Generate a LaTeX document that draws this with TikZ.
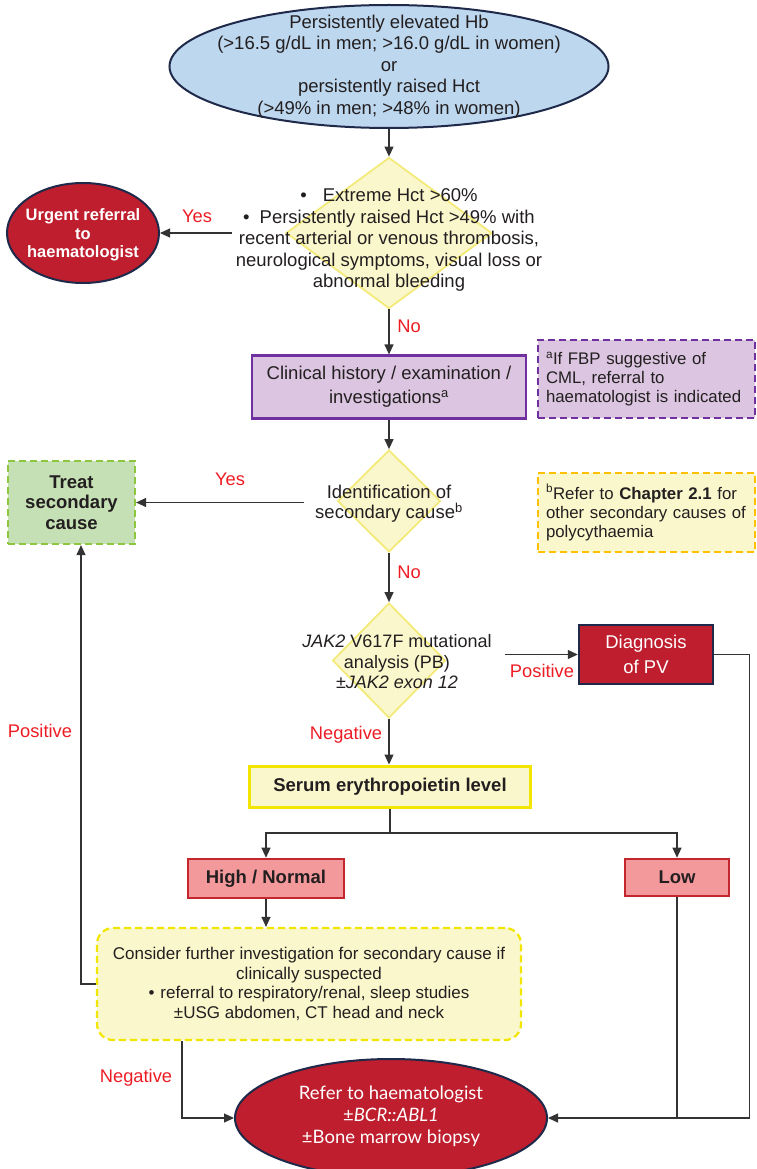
\documentclass[tikz,border=0pt]{standalone}
\usepackage{fontspec}
\setmainfont{Liberation Sans}
\newfontfamily\latofont{Lato}
\usetikzlibrary{shapes.geometric, arrows.meta}

\definecolor{inkgray}{HTML}{231F20}
\definecolor{linegray}{HTML}{333333}
\definecolor{labelred}{HTML}{ED1C24}
\definecolor{navyline}{HTML}{1F2A4A}
\definecolor{skyfill}{HTML}{BDD7EE}
\definecolor{bloodred}{HTML}{BE1E2D}
\definecolor{lilacfill}{HTML}{DBC5E0}
\definecolor{purpleline}{HTML}{7030A0}
\definecolor{leaffill}{HTML}{C5E0B4}
\definecolor{leafline}{HTML}{8DC63F}
\definecolor{creamfill}{HTML}{FAF7CC}
\definecolor{lemonline}{HTML}{F2E600}
\definecolor{amberline}{HTML}{FFC000}
\definecolor{paleline}{HTML}{F3EA7A}
\definecolor{pinkfill}{HTML}{F4999B}
\definecolor{rubyline}{HTML}{C4262E}

\begin{document}
\begin{tikzpicture}[x=1pt, y=-1pt,
    every node/.style={align=center, text=inkgray, inner sep=0pt,
        font=\fontsize{18.5}{21.5}\selectfont},
    arr/.style={draw=linegray, line width=1.2pt, -{Triangle[length=10pt,width=9pt]}},
    link/.style={draw=linegray, line width=1.2pt},
    yesno/.style={text=labelred, font=\fontsize{18.3}{20}\selectfont},
    oval/.style={ellipse, draw=navyline, line width=2pt, fill=bloodred},
    choice/.style={diamond, draw=paleline, line width=1.8pt, fill=creamfill},
    note/.style={rectangle, dash pattern=on 7pt off 4pt, line width=2.2pt,
        text width=201pt, align=left, font=\fontsize{16.8}{19}\selectfont},
    result/.style={rectangle, draw=rubyline, line width=2.6pt, fill=pinkfill,
        font=\fontsize{18.5}{21.5}\selectfont\bfseries}
  ]
    \useasboundingbox (0,0) rectangle (757,1169);

    % Start
    \node[ellipse, draw=navyline, line width=2pt, fill=skyfill,
        minimum width=439pt, minimum height=123pt] (hb) at (389,66.5) {};
    \node (hbtext) at (hb.center) {Persistently elevated Hb\\(>16.5 g/dL in men; >16.0 g/dL in women)\\or\\persistently raised Hct\\(>49\% in men; >48\% in women)};

    % First decision
    \node[choice, minimum width=206pt, minimum height=151pt] (d1) at (389,233) {};
    \node (d1text) at (389,240) {\textbullet\hspace{16pt}Extreme Hct >60\%\\\textbullet\hspace{10pt}Persistently raised Hct >49\% with\\recent arterial or venous thrombosis,\\neurological symptoms, visual loss or\\abnormal bleeding};
    \node[oval, minimum width=152pt, minimum height=100pt] (urgent) at (83,233) {};
    \node[text=white, font=\fontsize{16.5}{18.5}\selectfont\bfseries] (urgenttext) at (83,235) {Urgent referral\\to\\haematologist};

    % History
    \node[rectangle, draw=purpleline, line width=2.2pt, fill=lilacfill,
        minimum width=274pt, minimum height=63pt,
        font=\fontsize{18.5}{24}\selectfont] (clin) at (389,387) {Clinical history / examination /\\investigations\textsuperscript{a}};
    \node[note, draw=purpleline, fill=lilacfill, minimum width=217pt, minimum height=78pt] (nota) at (646.5,379) {\textsuperscript{a}If FBP suggestive of\\CML, referral to\\haematologist is indicated};

    % Secondary cause
    \node[choice, minimum width=103pt, minimum height=102pt] (d2) at (389,501) {};
    \node[font=\fontsize{18.5}{20}\selectfont] (d2text) at (389,504) {Identification of\\secondary cause\textsuperscript{b}};
    \node[rectangle, draw=leafline, dash pattern=on 7pt off 4pt, line width=2.2pt, fill=leaffill,
        minimum width=127pt, minimum height=83pt,
        font=\fontsize{18.5}{20.5}\selectfont\bfseries] (treat) at (71.5,502.5) {Treat\\secondary\\cause};
    \node[note, draw=amberline, fill=creamfill, minimum width=217pt, minimum height=79pt] (notb) at (646.5,512.5) {\textsuperscript{b}Refer to \textbf{Chapter 2.1} for\\other secondary causes of\\polycythaemia};

    % JAK2
    \node[choice, minimum width=113pt, minimum height=115pt] (d3) at (389,660.5) {};
    \node[font=\fontsize{18}{20.5}\selectfont] (d3text) at (397,662) {\textit{JAK2} V617F mutational\\analysis (PB)\\±\textit{JAK2 exon 12}};
    \node[rectangle, draw=navyline, line width=2.4pt, fill=bloodred,
        minimum width=134pt, minimum height=59pt, text=white,
        font=\fontsize{18.5}{25}\selectfont] (dx) at (646,654.5) {Diagnosis\\of PV};

    % EPO
    \node[rectangle, draw=lemonline, line width=3pt, fill=creamfill,
        minimum width=281pt, minimum height=41pt,
        font=\fontsize{18.5}{21.5}\selectfont\bfseries] (serum) at (390,786.5) {Serum erythropoietin level};
    \node[result, minimum width=156pt, minimum height=39pt] (hn) at (266,878.5) {High / Normal};
    \node[result, minimum width=104pt, minimum height=37pt] (low) at (677,877.5) {Low};
    \node[rectangle, rounded corners=16pt, draw=lemonline, dash pattern=on 7pt off 4pt,
        line width=2.2pt, fill=creamfill, minimum width=424pt, minimum height=112pt,
        font=\fontsize{17}{19.7}\selectfont] (cons) at (309,984) {Consider further investigation for secondary cause if\\clinically suspected\\\textbullet\hspace{6pt}referral to respiratory/renal, sleep studies\\±USG abdomen, CT head and neck};

    % End
    \node[oval, minimum width=312pt, minimum height=118pt] (refer) at (391,1118) {};
    \node[text=white, font=\latofont\fontsize{18.5}{22}\selectfont] (refertext) at (391,1116) {Refer to haematologist\\±\textit{BCR::ABL1}\\±Bone marrow biopsy};

    % Labels
    \node[yesno] (yes1) at (197,216) {Yes};
    \node[yesno] (no1) at (409,326) {No};
    \node[yesno] (yes2) at (230,479) {Yes};
    \node[yesno] (no2) at (409,572) {No};
    \node[yesno] (pos1) at (542,671) {Positive};
    \node[yesno] (neg1) at (346,735) {Negative};
    \node[yesno] (pos2) at (40,731) {Positive};
    \node[yesno] (neg2) at (136,1078) {Negative};

    % Connectors
    \draw[arr] (hb.south) -- (d1.north);
    \draw[arr] ([xshift=-4pt]d1text.west |- urgent.east) -- (urgent.east);
    \draw[arr] (d1.south) -- (clin.north);
    \draw[arr] (clin.south) -- (d2.north);
    \draw[arr] ([xshift=-11pt]d2text.west |- treat.east) -- (treat.east);
    \draw[arr] (d2.south) -- (d3.north);
    \draw[arr] ([xshift=13pt]d3text.east |- dx.west) -- (dx.west);
    \draw[arr] (d3.south) -- (d3.south |- serum.north);
    \coordinate (split) at (390,833);
    \draw[link] (serum.south) -- (split);
    \draw[arr] (split) -| (hn.north);
    \draw[arr] (split) -| (low.north);
    \draw[arr] (hn.south) -- (hn.south |- cons.north);
    \draw[arr] (cons.west) -| ([xshift=9.5pt]treat.south);
    \draw[arr] ([xshift=-127pt]cons.south) |- (refer.west);
    \draw[link] (low.south) -- (low.south |- refer.east);
    \draw[arr] (dx.east) -- ++(35,0) |- (refer.east);
\end{tikzpicture}
\end{document}
